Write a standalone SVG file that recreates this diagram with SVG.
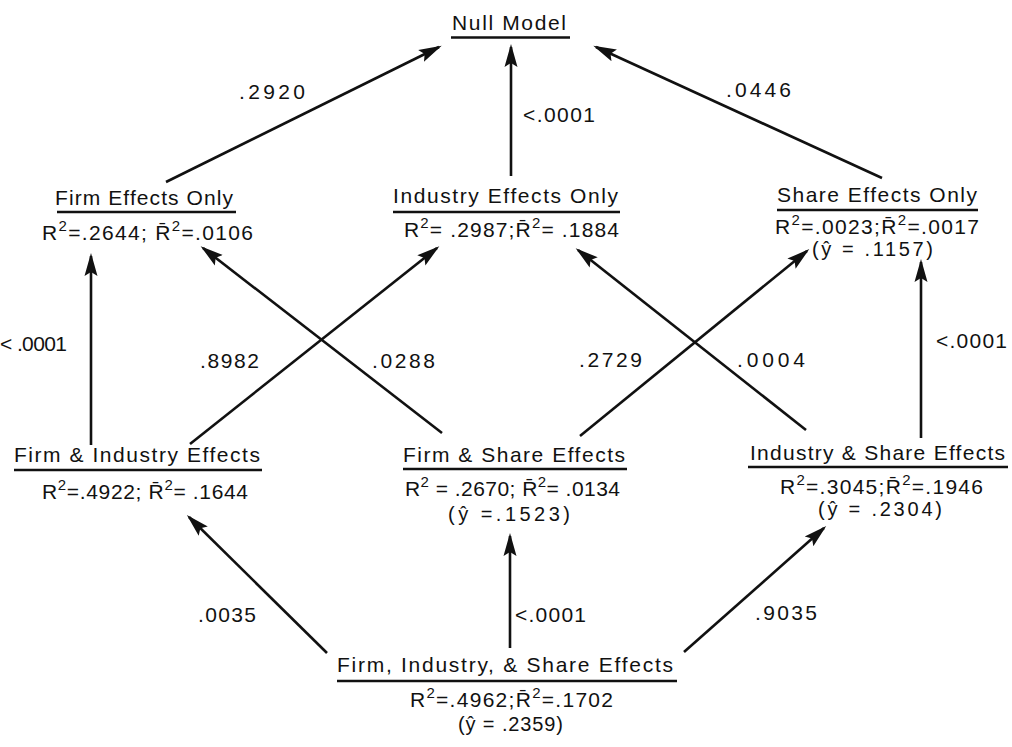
<svg xmlns="http://www.w3.org/2000/svg" width="1012" height="747" viewBox="0 0 1012 747">
<style>
  text { font-family: "Liberation Sans", "DejaVu Sans", Arial, sans-serif; font-size: 21px; fill: #111; }
  .sup { font-size: 15px; }
  .yh { font-size: 20px; }
  .ul { stroke: #111; stroke-width: 2.5; }
  .edge { stroke: #111; stroke-width: 2.6; fill: none; marker-end: url(#arrow); }
</style>
<defs>
  <marker id="arrow" markerUnits="userSpaceOnUse" markerWidth="24" markerHeight="16" viewBox="0 0 24 16" refX="20" refY="8" orient="auto">
    <path d="M0,1.5 L23,8 L0,14.5 L4,8 z" fill="#111"/>
  </marker>
</defs>
<rect width="1012" height="747" fill="#fff"/>

<g id="connectors">
  <line class="edge" x1="166" y1="182" x2="439" y2="47"/>
  <line class="edge" x1="511" y1="176" x2="511" y2="47"/>
  <line class="edge" x1="882" y1="178" x2="596" y2="47"/>
  <line class="edge" x1="91" y1="445" x2="91" y2="256"/>
  <line class="edge" x1="921" y1="438" x2="921" y2="262"/>
  <line class="edge" x1="190" y1="444" x2="437" y2="248"/>
  <line class="edge" x1="442" y1="433" x2="203" y2="248"/>
  <line class="edge" x1="580" y1="436" x2="807" y2="251"/>
  <line class="edge" x1="806" y1="430" x2="578" y2="250"/>
  <line class="edge" x1="327" y1="653" x2="189" y2="517"/>
  <line class="edge" x1="510" y1="648" x2="510" y2="536"/>
  <line class="edge" x1="684" y1="652" x2="824" y2="528"/>
  <text x="239" y="99" textLength="66" lengthAdjust="spacing">.2920</text>
  <text x="523" y="122" textLength="72" lengthAdjust="spacing">&lt;.0001</text>
  <text x="726" y="97" textLength="65" lengthAdjust="spacing">.0446</text>
  <text x="0" y="351" textLength="67" lengthAdjust="spacing">&lt; .0001</text>
  <text x="936" y="348" textLength="71" lengthAdjust="spacing">&lt;.0001</text>
  <text x="200" y="368" textLength="59" lengthAdjust="spacing">.8982</text>
  <text x="372" y="368" textLength="63" lengthAdjust="spacing">.0288</text>
  <text x="579" y="367" textLength="63" lengthAdjust="spacing">.2729</text>
  <text x="737" y="367" textLength="68" lengthAdjust="spacing">.0004</text>
  <text x="198" y="622" textLength="58" lengthAdjust="spacing">.0035</text>
  <text x="515" y="622" textLength="71" lengthAdjust="spacing">&lt;.0001</text>
  <text x="755" y="620" textLength="62" lengthAdjust="spacing">.9035</text>
</g>

<g id="null-model">
  <text x="452" y="30" textLength="114" lengthAdjust="spacing">Null Model</text>
  <line class="ul" x1="451" y1="37.5" x2="570" y2="37.5"/>
</g>

<g id="firm-only">
  <text x="55" y="205" textLength="178" lengthAdjust="spacing">Firm Effects Only</text>
  <line class="ul" x1="57" y1="212" x2="236" y2="212"/>
  <text x="42" y="240" textLength="211" lengthAdjust="spacing">R<tspan class="sup" dy="-9">2</tspan><tspan dy="9">=.2644; R̄</tspan><tspan class="sup" dy="-9">2</tspan><tspan dy="9">=.0106</tspan></text>
</g>

<g id="industry-only">
  <text x="393" y="203" textLength="225" lengthAdjust="spacing">Industry Effects Only</text>
  <line class="ul" x1="393" y1="212" x2="620" y2="212"/>
  <text x="404" y="237" textLength="215" lengthAdjust="spacing">R<tspan class="sup" dy="-9">2</tspan><tspan dy="9">= .2987;R̄</tspan><tspan class="sup" dy="-9">2</tspan><tspan dy="9">= .1884</tspan></text>
</g>

<g id="share-only">
  <text x="777" y="202" textLength="200" lengthAdjust="spacing">Share Effects Only</text>
  <line class="ul" x1="777" y1="210" x2="978" y2="210"/>
  <text x="775" y="234" textLength="204" lengthAdjust="spacing">R<tspan class="sup" dy="-9">2</tspan><tspan dy="9">=.0023;R̄</tspan><tspan class="sup" dy="-9">2</tspan><tspan dy="9">=.0017</tspan></text>
  <text class="yh" x="812" y="256" textLength="121" lengthAdjust="spacing">(ŷ  =  .1157)</text>
</g>

<g id="firm-industry">
  <text x="14" y="462" textLength="246" lengthAdjust="spacing">Firm &amp; Industry Effects</text>
  <line class="ul" x1="14" y1="470" x2="262" y2="470"/>
  <text x="42" y="499" textLength="206" lengthAdjust="spacing">R<tspan class="sup" dy="-9">2</tspan><tspan dy="9">=.4922; R̄</tspan><tspan class="sup" dy="-9">2</tspan><tspan dy="9">= .1644</tspan></text>
</g>

<g id="firm-share">
  <text x="403" y="462" textLength="222" lengthAdjust="spacing">Firm &amp; Share Effects</text>
  <line class="ul" x1="403" y1="469" x2="627" y2="469"/>
  <text x="405" y="496" textLength="215" lengthAdjust="spacing">R<tspan class="sup" dy="-9">2</tspan><tspan dy="9"> = .2670; R̄</tspan><tspan class="sup" dy="-9">2</tspan><tspan dy="9">= .0134</tspan></text>
  <text class="yh" x="448" y="521" textLength="122" lengthAdjust="spacing">(ŷ =.1523)</text>
</g>

<g id="industry-share">
  <text x="750" y="460" textLength="255" lengthAdjust="spacing">Industry &amp; Share Effects</text>
  <line class="ul" x1="748" y1="467" x2="1008" y2="467"/>
  <text x="780" y="494" textLength="203" lengthAdjust="spacing">R<tspan class="sup" dy="-9">2</tspan><tspan dy="9">=.3045;R̄</tspan><tspan class="sup" dy="-9">2</tspan><tspan dy="9">=.1946</tspan></text>
  <text class="yh" x="818" y="516" textLength="124" lengthAdjust="spacing">(ŷ = .2304)</text>
</g>

<g id="firm-industry-share">
  <text x="337" y="672" textLength="336" lengthAdjust="spacing">Firm, Industry, &amp; Share Effects</text>
  <line class="ul" x1="337" y1="681" x2="677" y2="681"/>
  <text x="410" y="707" textLength="203" lengthAdjust="spacing">R<tspan class="sup" dy="-9">2</tspan><tspan dy="9">=.4962;R̄</tspan><tspan class="sup" dy="-9">2</tspan><tspan dy="9">=.1702</tspan></text>
  <text class="yh" x="458" y="731" textLength="105" lengthAdjust="spacing">(ŷ = .2359)</text>
</g>
</svg>
